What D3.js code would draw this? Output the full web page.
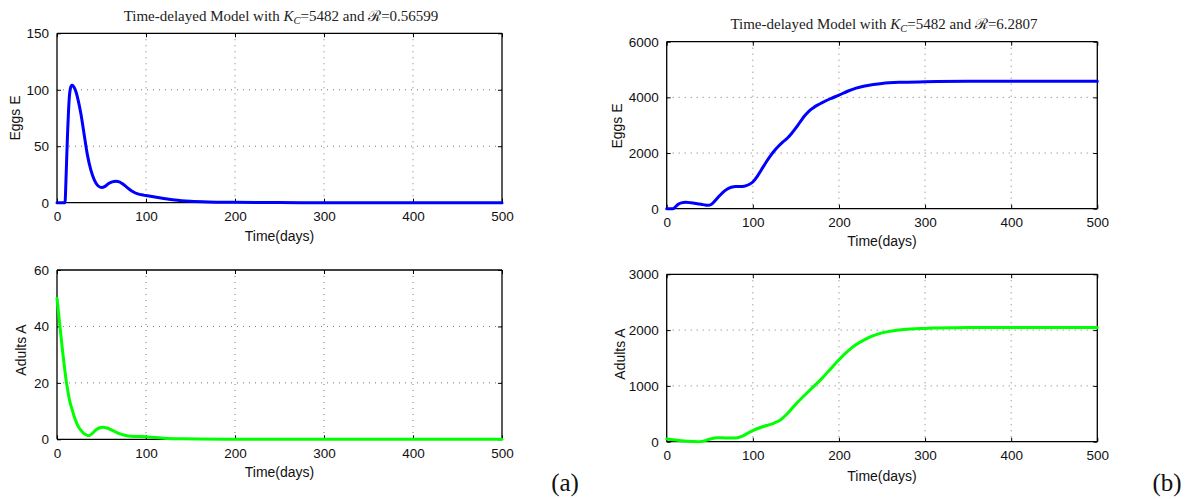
<!DOCTYPE html>
<html>
<head>
<meta charset="utf-8">
<script src="https://cdn.jsdelivr.net/npm/d3@7"></script>
<style>
  html, body { margin: 0; padding: 0; background: #fff; }
  svg { display: block; }
</style>
</head>
<body>
<svg id="chart" width="1192" height="499"></svg>
<script>
// ---------------- DATA ----------------
const xTicks = [0, 100, 200, 300, 400, 500];

// (a) R = 0.56599
const eggsA_t = [0, 8, 9, 10, 11, 12, 13, 14, 15, 16, 17, 18, 19, 21, 24, 27, 30, 34, 38, 42, 46, 50, 54, 58, 62, 66, 70, 74, 78, 82, 86, 90, 95, 100, 110, 120, 130, 140, 150, 170, 200, 250, 300, 400, 500];
const eggsA_v = [0, 0, 0, 18, 42, 64, 82, 95, 101, 103.5, 104, 103.5, 102.5, 99, 90, 78, 63, 43, 29, 20, 15, 13.5, 14.5, 17, 18.5, 19, 18.5, 16.5, 14, 11.5, 9.5, 8, 7, 6.3, 5, 3.8, 2.7, 1.8, 1.2, 0.6, 0.3, 0.1, 0, 0, 0];
const adultsA_t = [0, 2, 4, 6, 8, 10, 12, 14, 17, 20, 24, 28, 32, 36, 40, 44, 48, 52, 56, 60, 65, 70, 75, 80, 90, 100, 110, 120, 140, 160, 200, 300, 500];
const adultsA_v = [50, 44, 38, 32, 26.5, 21.5, 17.5, 14, 10.5, 7.5, 4.5, 2.8, 1.7, 1.3, 2.2, 3.4, 4.1, 4.3, 4, 3.5, 2.7, 2, 1.5, 1.2, 1, 0.9, 0.6, 0.4, 0.2, 0.1, 0, 0, 0];

// (b) R = 6.2807
const eggsB_t = [0, 7, 10, 13, 17, 22, 28, 34, 40, 45, 48, 52, 56, 60, 65, 70, 75, 80, 85, 90, 95, 100, 105, 110, 115, 120, 125, 130, 135, 140, 145, 150, 155, 160, 165, 170, 175, 180, 190, 200, 210, 220, 230, 240, 250, 270, 300, 350, 400, 500];
const eggsB_v = [0, 0, 60, 150, 210, 230, 215, 190, 160, 130, 120, 160, 280, 420, 580, 700, 770, 800, 800, 810, 860, 960, 1150, 1400, 1650, 1880, 2080, 2250, 2400, 2530, 2700, 2900, 3120, 3330, 3500, 3620, 3720, 3800, 3950, 4080, 4220, 4330, 4410, 4460, 4500, 4540, 4560, 4575, 4575, 4575];
const adultsB_t = [0, 10, 20, 30, 36, 42, 50, 58, 65, 72, 80, 88, 95, 100, 108, 116, 124, 132, 140, 148, 156, 164, 172, 180, 190, 200, 210, 220, 230, 240, 250, 260, 275, 300, 350, 400, 500];
const adultsB_v = [50, 30, 12, 3, 0, 10, 45, 70, 70, 65, 65, 100, 160, 200, 250, 290, 330, 390, 500, 640, 770, 890, 1010, 1130, 1300, 1470, 1620, 1740, 1830, 1900, 1950, 1980, 2010, 2030, 2045, 2048, 2048];

const yTicksEggsA = [0, 50, 100, 150];
const yTicksAdultsA = [0, 20, 40, 60];
const yTicksEggsB = [0, 2000, 4000, 6000];
const yTicksAdultsB = [0, 1000, 2000, 3000];

const titleA = { pre: "Time-delayed Model with ", kc: "5482", r: "0.56599" };
const titleB = { pre: "Time-delayed Model with ", kc: "5482", r: "6.2807" };

// ---------------- LAYOUT ----------------
const svg = d3.select("#chart");
const sans = "'Liberation Sans', Arial, Helvetica, sans-serif";
const serif = "'Liberation Serif', 'Times New Roman', serif";

const panels = [
  { t: eggsA_t, v: eggsA_v, yTicks: yTicksEggsA, color: "#0000ff", ylabel: "Eggs E",
    x0: 57, x1: 502, top: 33.3, bottom: 202.7, ylx: 15, yly: 118, xly: 236, title: titleA, tx: 281, ty: 21 },
  { t: eggsB_t, v: eggsB_v, yTicks: yTicksEggsB, color: "#0000ff", ylabel: "Eggs E",
    x0: 666.7, x1: 1097.3, top: 41.7, bottom: 208.7, ylx: 617, yly: 126, xly: 241, title: titleB, tx: 884, ty: 29 },
  { t: adultsA_t, v: adultsA_v, yTicks: yTicksAdultsA, color: "#00ff00", ylabel: "Adults A",
    x0: 57, x1: 502, top: 270, bottom: 439.3, ylx: 21, yly: 350, xly: 472 },
  { t: adultsB_t, v: adultsB_v, yTicks: yTicksAdultsB, color: "#00ff00", ylabel: "Adults A",
    x0: 666.7, x1: 1097.3, top: 274.3, bottom: 441.7, ylx: 620, yly: 354, xly: 476 }
];

panels.forEach(p => {
  const x = d3.scaleLinear().domain([0, 500]).range([p.x0, p.x1]);
  const y = d3.scaleLinear().domain([0, d3.max(p.yTicks)]).range([p.bottom, p.top]);
  const g = svg.append("g");

  // grid (dotted)
  g.append("g").selectAll("line").data(xTicks.slice(1, -1)).join("line")
    .attr("x1", d => x(d)).attr("x2", d => x(d))
    .attr("y1", p.top).attr("y2", p.bottom)
    .attr("stroke", "#777").attr("stroke-width", 1).attr("stroke-dasharray", "1,5");
  g.append("g").selectAll("line").data(p.yTicks.slice(1, -1)).join("line")
    .attr("y1", d => y(d)).attr("y2", d => y(d))
    .attr("x1", p.x0).attr("x2", p.x1)
    .attr("stroke", "#777").attr("stroke-width", 1).attr("stroke-dasharray", "1,5");

  // axes using d3 axis generators (inner ticks)
  const fmt = d3.format("d");
  const axB = g.append("g").attr("transform", `translate(0,${p.bottom})`)
    .call(d3.axisBottom(x).tickValues(xTicks).tickSize(-4).tickPadding(9).tickFormat(fmt));
  const axL = g.append("g").attr("transform", `translate(${p.x0},0)`)
    .call(d3.axisLeft(y).tickValues(p.yTicks).tickSize(-4).tickPadding(8).tickFormat(fmt));
  const axT = g.append("g").attr("transform", `translate(0,${p.top})`)
    .call(d3.axisTop(x).tickValues(xTicks).tickSize(-4).tickFormat(""));
  const axR = g.append("g").attr("transform", `translate(${p.x1},0)`)
    .call(d3.axisRight(y).tickValues(p.yTicks).tickSize(-4).tickFormat(""));
  [axB, axL, axT, axR].forEach(a => {
    a.selectAll(".domain").attr("stroke", "#000").attr("stroke-width", 1.3);
    a.selectAll(".tick line").attr("stroke", "#000").attr("stroke-width", 1);
    a.selectAll("text").attr("font-family", sans).attr("font-size", 13.5).attr("fill", "#111");
  });
  axB.selectAll(".domain").attr("d", `M${p.x0},0H${p.x1}`);
  axT.selectAll(".domain").attr("d", `M${p.x0},0H${p.x1}`);
  axL.selectAll(".domain").attr("d", `M0,${p.top}V${p.bottom}`);
  axR.selectAll(".domain").attr("d", `M0,${p.top}V${p.bottom}`);

  // data line
  const pts = p.t.map((t, i) => [t, p.v[i]]);
  g.append("path").datum(pts)
    .attr("fill", "none").attr("stroke", p.color).attr("stroke-width", 3)
    .attr("stroke-linejoin", "round").attr("stroke-linecap", "round")
    .attr("d", d3.line().x(d => x(d[0])).y(d => y(d[1])).curve(d3.curveMonotoneX));

  // labels
  g.append("text").attr("x", (p.x0 + p.x1) / 2).attr("y", p.xly + 5)
    .attr("text-anchor", "middle").attr("font-family", sans).attr("font-size", 14)
    .attr("fill", "#111").text("Time(days)");
  g.append("text").attr("transform", `translate(${p.ylx + 5},${p.yly}) rotate(-90)`)
    .attr("text-anchor", "middle").attr("font-family", sans).attr("font-size", 14)
    .attr("fill", "#111").text(p.ylabel);

  if (p.title) {
    const tt = g.append("text").attr("x", p.tx).attr("y", p.ty).attr("text-anchor", "middle")
      .attr("font-family", serif).attr("font-size", 15).attr("fill", "#222");
    tt.append("tspan").text(p.title.pre);
    tt.append("tspan").attr("font-style", "italic").text("K");
    tt.append("tspan").attr("font-style", "italic").attr("font-size", 10.5).attr("dy", 3).text("C");
    tt.append("tspan").attr("dy", -3).text("=" + p.title.kc + " and ");
    tt.append("tspan").text("\u211B");
    tt.append("tspan").text("=" + p.title.r);
  }
});

svg.append("text").attr("x", 565).attr("y", 491).attr("text-anchor", "middle")
  .attr("font-family", serif).attr("font-size", 25).attr("fill", "#111").text("(a)");
svg.append("text").attr("x", 1167).attr("y", 491).attr("text-anchor", "middle")
  .attr("font-family", serif).attr("font-size", 25).attr("fill", "#111").text("(b)");
</script>
</body>
</html>
